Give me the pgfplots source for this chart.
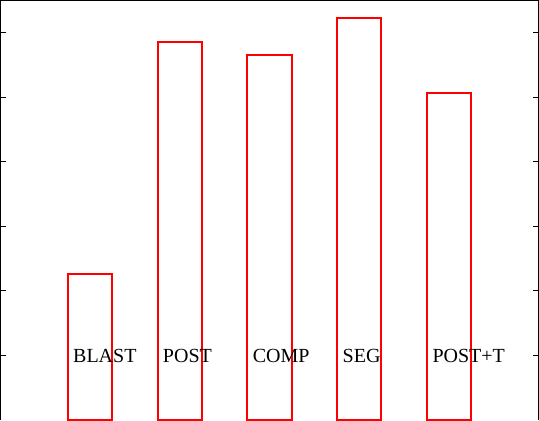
\documentclass[border=0pt]{standalone}
\usepackage{fontspec}
\setmainfont{Liberation Serif}
\usepackage{pgfplots}
\pgfplotsset{compat=1.18}
\begin{document}
\begin{tikzpicture}
\begin{axis}[
  name=main,
  scale only axis,
  width=269.5pt, height=210pt,
  xmin=0, xmax=6, ymin=0, ymax=6.51,
  axis x line*=top,
  xtick=\empty,
  ytick={1,2,3,4,5,6},
  yticklabels={},
  tick align=inside,
  major tick length=3pt,
  tick style={black, line width=0.5pt},
  axis line style={black, line width=0.6pt},
  ybar, bar width=0.49,
  every node/.append style={font=\fontsize{10.6}{12}\selectfont},
]
\addplot[draw=red, fill=white, line width=1pt] coordinates {
  (1,2.26) (2,5.86) (3,5.66) (4,6.23) (5,5.07)
};
\node[anchor=west, inner sep=0pt] at (axis cs:0.81,1) {BLAST};
\node[anchor=west, inner sep=0pt] at (axis cs:1.81,1) {POST};
\node[anchor=west, inner sep=0pt] at (axis cs:2.81,1) {COMP};
\node[anchor=west, inner sep=0pt] at (axis cs:3.81,1) {SEG};
\node[anchor=west, inner sep=0pt] at (axis cs:4.81,1) {POST+T};
\end{axis}
\pgfresetboundingbox
\useasboundingbox (main.south west) rectangle (main.north east);
\end{tikzpicture}
\end{document}
